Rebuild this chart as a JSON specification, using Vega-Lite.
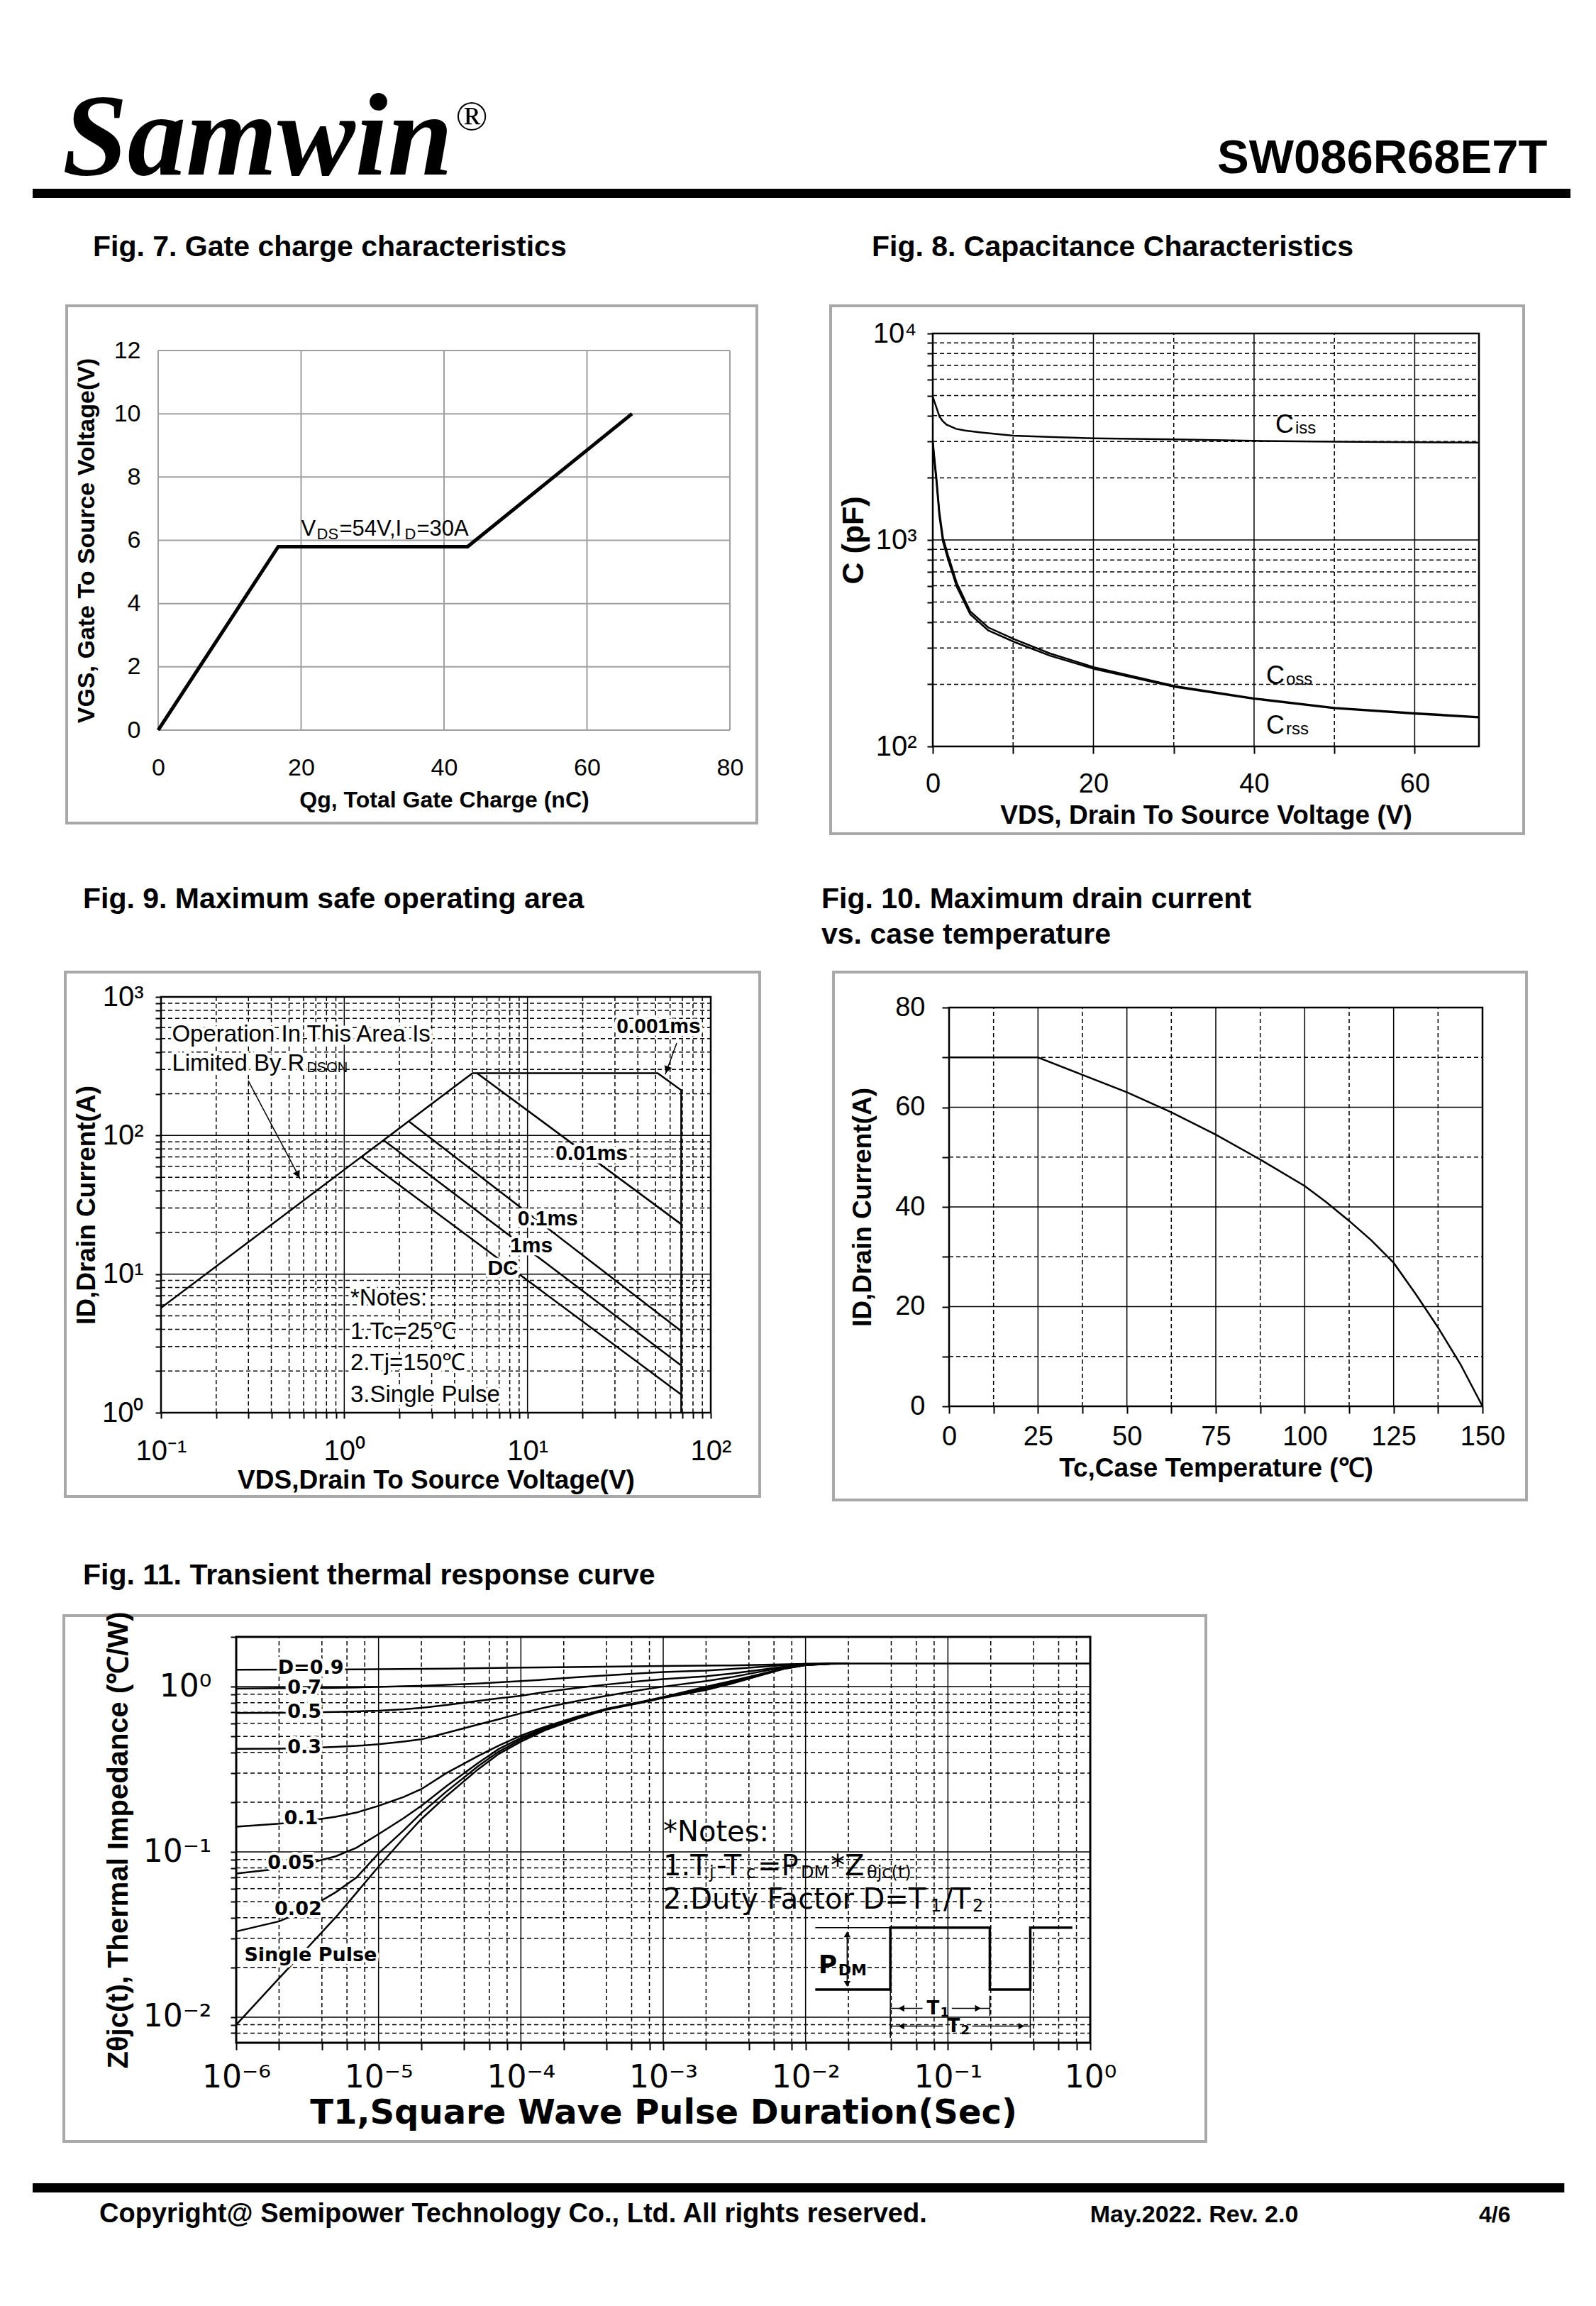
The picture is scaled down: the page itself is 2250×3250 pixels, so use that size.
{
"$schema":"https://vega.github.io/schema/vega-lite/v6.json",
"background":"white",
"padding":{"left":46,"top":99,"right":10,"bottom":10},
"spacing":0,
"bounds":"full",
"config":{"view":{"stroke":null},"font":"Liberation Sans","mark":{"color":"black"},
"axis":{"labelColor":"black","titleColor":"black","tickColor":"black","labelFont":"Liberation Sans","titleFont":"Liberation Sans","domain":false,"grid":false,"labelFlush":false,"labelOverlap":false,"tickWidth":2}},
"datasets":{
"f7":[{"x":0,"y":0},{"x":16.8,"y":5.8},{"x":43.3,"y":5.8},{"x":66.3,"y":10}],
"f7gx":[{"v":0},{"v":20},{"v":40},{"v":60},{"v":80}],
"f7gy":[{"v":0},{"v":2},{"v":4},{"v":6},{"v":8},{"v":10},{"v":12}],
"f8":[
{"s":"iss","x":0,"y":4935},{"s":"iss","x":0.4,"y":4450},{"s":"iss","x":0.82,"y":3970},{"s":"iss","x":1.2,"y":3780},{"s":"iss","x":1.7,"y":3622},{"s":"iss","x":2.9,"y":3453},{"s":"iss","x":4,"y":3390},{"s":"iss","x":5.8,"y":3325},{"s":"iss","x":8,"y":3260},{"s":"iss","x":10,"y":3198},{"s":"iss","x":15,"y":3150},{"s":"iss","x":20,"y":3107},{"s":"iss","x":30,"y":3070},{"s":"iss","x":40,"y":3020},{"s":"iss","x":50,"y":2990},{"s":"iss","x":60,"y":2975},{"s":"iss","x":68,"y":2960},
{"s":"oss","x":0,"y":3020},{"s":"oss","x":0.2,"y":2500},{"s":"oss","x":0.44,"y":2030},{"s":"oss","x":0.82,"y":1370},{"s":"oss","x":1.26,"y":1030},{"s":"oss","x":1.9,"y":843},{"s":"oss","x":3,"y":617},{"s":"oss","x":4.66,"y":451},{"s":"oss","x":6.9,"y":377},{"s":"oss","x":10.2,"y":330},{"s":"oss","x":14.6,"y":282},{"s":"oss","x":20.2,"y":241},{"s":"oss","x":30.2,"y":196},{"s":"oss","x":40,"y":171},{"s":"oss","x":50,"y":154},{"s":"oss","x":60,"y":145},{"s":"oss","x":68,"y":139},
{"s":"rss","x":0,"y":2950},{"s":"rss","x":0.2,"y":2420},{"s":"rss","x":0.44,"y":1950},{"s":"rss","x":0.82,"y":1310},{"s":"rss","x":1.26,"y":985},{"s":"rss","x":1.9,"y":805},{"s":"rss","x":3,"y":592},{"s":"rss","x":4.66,"y":437},{"s":"rss","x":6.9,"y":365},{"s":"rss","x":10.2,"y":320},{"s":"rss","x":14.6,"y":275},{"s":"rss","x":20.2,"y":237},{"s":"rss","x":30.2,"y":194},{"s":"rss","x":40,"y":170},{"s":"rss","x":50,"y":153},{"s":"rss","x":60,"y":144},{"s":"rss","x":68,"y":138}],
"f8gx":[{"v":10,"k":"m"},{"v":20,"k":"M"},{"v":30,"k":"m"},{"v":40,"k":"M"},{"v":50,"k":"m"},{"v":60,"k":"M"}],
"f8gy":[{"v":200,"k":"m"},{"v":300,"k":"m"},{"v":400,"k":"m"},{"v":500,"k":"m"},{"v":600,"k":"m"},{"v":700,"k":"m"},{"v":800,"k":"m"},{"v":900,"k":"m"},{"v":1000,"k":"M"},{"v":2000,"k":"m"},{"v":3000,"k":"m"},{"v":4000,"k":"m"},{"v":5000,"k":"m"},{"v":6000,"k":"m"},{"v":7000,"k":"m"},{"v":8000,"k":"m"},{"v":9000,"k":"m"}],
"f9":[{"s":"lim","i":0,"x":0.1,"y":5.7},{"s":"lim","i":1,"x":5.01,"y":282},{"s":"lim","i":2,"x":51.3,"y":282},{"s":"lim","i":3,"x":69,"y":212},{"s":"lim","i":4,"x":69,"y":1},
{"s":"a","i":0,"x":5.3,"y":282},{"s":"a","i":1,"x":69,"y":22.9},
{"s":"b","i":0,"x":2.26,"y":126},{"s":"b","i":1,"x":69,"y":3.88},
{"s":"c","i":0,"x":1.65,"y":92},{"s":"c","i":1,"x":69,"y":2.19},
{"s":"d","i":0,"x":1.24,"y":70},{"s":"d","i":1,"x":69,"y":1.35}],
"f9gx":[{"v":0.2,"k":"m"},{"v":0.3,"k":"m"},{"v":0.4,"k":"m"},{"v":0.5,"k":"m"},{"v":0.6,"k":"m"},{"v":0.7,"k":"m"},{"v":0.8,"k":"m"},{"v":0.9,"k":"m"},{"v":1,"k":"M"},{"v":2,"k":"m"},{"v":3,"k":"m"},{"v":4,"k":"m"},{"v":5,"k":"m"},{"v":6,"k":"m"},{"v":7,"k":"m"},{"v":8,"k":"m"},{"v":9,"k":"m"},{"v":10,"k":"M"},{"v":20,"k":"m"},{"v":30,"k":"m"},{"v":40,"k":"m"},{"v":50,"k":"m"},{"v":60,"k":"m"},{"v":70,"k":"m"},{"v":80,"k":"m"},{"v":90,"k":"m"}],
"f9gy":[{"v":2,"k":"m"},{"v":3,"k":"m"},{"v":4,"k":"m"},{"v":5,"k":"m"},{"v":6,"k":"m"},{"v":7,"k":"m"},{"v":8,"k":"m"},{"v":9,"k":"m"},{"v":10,"k":"M"},{"v":20,"k":"m"},{"v":30,"k":"m"},{"v":40,"k":"m"},{"v":50,"k":"m"},{"v":60,"k":"m"},{"v":70,"k":"m"},{"v":80,"k":"m"},{"v":90,"k":"m"},{"v":100,"k":"M"},{"v":200,"k":"m"},{"v":300,"k":"m"},{"v":400,"k":"m"},{"v":500,"k":"m"},{"v":600,"k":"m"},{"v":700,"k":"m"},{"v":800,"k":"m"},{"v":900,"k":"m"}],
"f9b":[{"t":"0.001ms","x":51.9,"y":606},{"t":"0.01ms","x":22.4,"y":73.6},{"t":"0.1ms","x":12.9,"y":25},{"t":"1ms","x":10.5,"y":15.9},{"t":"DC","x":7.35,"y":10.9}],
"f9n":[{"t":"Operation In This Area Is","x":0.1147,"y":535},{"t":"Limited By R","x":0.1147,"y":329},{"t":"*Notes:","x":1.08,"y":6.68},{"t":"1.Tc=25℃","x":1.08,"y":3.83},{"t":"2.Tj=150℃","x":1.08,"y":2.27},{"t":"3.Single Pulse","x":1.08,"y":1.35}],
"f10":[{"x":0,"y":70},{"x":25,"y":70},{"x":37.5,"y":66.5},{"x":50,"y":63},{"x":62.5,"y":59},{"x":75,"y":54.5},{"x":87.5,"y":49.5},{"x":100,"y":44.2},{"x":106,"y":41},{"x":112.5,"y":37.2},{"x":118.75,"y":33.3},{"x":125,"y":28.8},{"x":131.25,"y":22.5},{"x":137.5,"y":15.8},{"x":143.75,"y":8.5},{"x":150,"y":0}],
"f10gx":[{"v":12.5,"k":"m"},{"v":25,"k":"M"},{"v":37.5,"k":"m"},{"v":50,"k":"M"},{"v":62.5,"k":"m"},{"v":75,"k":"M"},{"v":87.5,"k":"m"},{"v":100,"k":"M"},{"v":112.5,"k":"m"},{"v":125,"k":"M"},{"v":137.5,"k":"m"}],
"f10gy":[{"v":10,"k":"m"},{"v":20,"k":"M"},{"v":30,"k":"m"},{"v":40,"k":"M"},{"v":50,"k":"m"},{"v":60,"k":"M"},{"v":70,"k":"m"}],
"f11":[
{"s":"sp","x":1e-6,"y":0.009},{"s":"sp","x":2e-6,"y":0.0172},{"s":"sp","x":3e-6,"y":0.025},{"s":"sp","x":5e-6,"y":0.0402},{"s":"sp","x":7e-6,"y":0.0566},{"s":"sp","x":1e-5,"y":0.0815},{"s":"sp","x":1.5e-5,"y":0.121},{"s":"sp","x":2e-5,"y":0.158},{"s":"sp","x":3e-5,"y":0.218},{"s":"sp","x":5e-5,"y":0.316},{"s":"sp","x":7e-5,"y":0.392},{"s":"sp","x":1e-4,"y":0.465},{"s":"sp","x":1.5e-4,"y":0.548},{"s":"sp","x":2.5e-4,"y":0.641},{"s":"sp","x":4e-4,"y":0.725},{"s":"sp","x":7e-4,"y":0.8},{"s":"sp","x":1e-3,"y":0.855},{"s":"sp","x":2e-3,"y":0.955},{"s":"sp","x":3e-3,"y":1.04},{"s":"sp","x":5e-3,"y":1.18},{"s":"sp","x":7e-3,"y":1.28},{"s":"sp","x":1e-2,"y":1.35},{"s":"sp","x":1.5e-2,"y":1.375},{"s":"sp","x":2e-2,"y":1.38},{"s":"sp","x":1,"y":1.38},
{"s":"d02","x":1e-6,"y":0.033},{"s":"d02","x":2e-6,"y":0.038},{"s":"d02","x":3e-6,"y":0.044},{"s":"d02","x":5e-6,"y":0.057},{"s":"d02","x":7e-6,"y":0.07},{"s":"d02","x":1e-5,"y":0.098},{"s":"d02","x":1.5e-5,"y":0.135},{"s":"d02","x":2e-5,"y":0.172},{"s":"d02","x":3e-5,"y":0.232},{"s":"d02","x":5e-5,"y":0.33},{"s":"d02","x":7e-5,"y":0.405},{"s":"d02","x":1e-4,"y":0.478},{"s":"d02","x":1.5e-4,"y":0.558},{"s":"d02","x":2.5e-4,"y":0.648},{"s":"d02","x":4e-4,"y":0.73},{"s":"d02","x":7e-4,"y":0.803},{"s":"d02","x":1e-3,"y":0.858},{"s":"d02","x":2e-3,"y":0.97},{"s":"d02","x":3e-3,"y":1.05},{"s":"d02","x":5e-3,"y":1.185},{"s":"d02","x":7e-3,"y":1.282},{"s":"d02","x":1e-2,"y":1.35},{"s":"d02","x":1.5e-2,"y":1.376},{"s":"d02","x":2e-2,"y":1.38},
{"s":"d05","x":1e-6,"y":0.074},{"s":"d05","x":2e-6,"y":0.079},{"s":"d05","x":3e-6,"y":0.084},{"s":"d05","x":5e-6,"y":0.094},{"s":"d05","x":7e-6,"y":0.106},{"s":"d05","x":1e-5,"y":0.128},{"s":"d05","x":1.5e-5,"y":0.16},{"s":"d05","x":2e-5,"y":0.19},{"s":"d05","x":3e-5,"y":0.25},{"s":"d05","x":5e-5,"y":0.345},{"s":"d05","x":7e-5,"y":0.42},{"s":"d05","x":1e-4,"y":0.49},{"s":"d05","x":1.5e-4,"y":0.565},{"s":"d05","x":2.5e-4,"y":0.652},{"s":"d05","x":4e-4,"y":0.73},{"s":"d05","x":7e-4,"y":0.805},{"s":"d05","x":1e-3,"y":0.86},{"s":"d05","x":2e-3,"y":0.985},{"s":"d05","x":3e-3,"y":1.065},{"s":"d05","x":5e-3,"y":1.195},{"s":"d05","x":7e-3,"y":1.285},{"s":"d05","x":1e-2,"y":1.352},{"s":"d05","x":1.5e-2,"y":1.376},{"s":"d05","x":2e-2,"y":1.38},
{"s":"d1","x":1e-6,"y":0.142},{"s":"d1","x":2e-6,"y":0.148},{"s":"d1","x":3e-6,"y":0.153},{"s":"d1","x":5e-6,"y":0.163},{"s":"d1","x":7e-6,"y":0.173},{"s":"d1","x":1e-5,"y":0.19},{"s":"d1","x":1.5e-5,"y":0.215},{"s":"d1","x":2e-5,"y":0.24},{"s":"d1","x":3e-5,"y":0.3},{"s":"d1","x":5e-5,"y":0.38},{"s":"d1","x":7e-5,"y":0.44},{"s":"d1","x":1e-4,"y":0.505},{"s":"d1","x":1.5e-4,"y":0.575},{"s":"d1","x":2.5e-4,"y":0.66},{"s":"d1","x":4e-4,"y":0.735},{"s":"d1","x":7e-4,"y":0.81},{"s":"d1","x":1e-3,"y":0.865},{"s":"d1","x":2e-3,"y":1.0},{"s":"d1","x":3e-3,"y":1.08},{"s":"d1","x":5e-3,"y":1.2},{"s":"d1","x":7e-3,"y":1.29},{"s":"d1","x":1e-2,"y":1.355},{"s":"d1","x":1.5e-2,"y":1.377},{"s":"d1","x":2e-2,"y":1.38},
{"s":"d3","x":1e-6,"y":0.42},{"s":"d3","x":2e-6,"y":0.422},{"s":"d3","x":3e-6,"y":0.425},{"s":"d3","x":5e-6,"y":0.432},{"s":"d3","x":7e-6,"y":0.438},{"s":"d3","x":1e-5,"y":0.448},{"s":"d3","x":1.5e-5,"y":0.465},{"s":"d3","x":2e-5,"y":0.48},{"s":"d3","x":3e-5,"y":0.525},{"s":"d3","x":5e-5,"y":0.59},{"s":"d3","x":7e-5,"y":0.635},{"s":"d3","x":1e-4,"y":0.69},{"s":"d3","x":1.5e-4,"y":0.75},{"s":"d3","x":2.5e-4,"y":0.82},{"s":"d3","x":4e-4,"y":0.88},{"s":"d3","x":7e-4,"y":0.955},{"s":"d3","x":1e-3,"y":1.0},{"s":"d3","x":2e-3,"y":1.08},{"s":"d3","x":3e-3,"y":1.14},{"s":"d3","x":5e-3,"y":1.24},{"s":"d3","x":7e-3,"y":1.31},{"s":"d3","x":1e-2,"y":1.36},{"s":"d3","x":1.5e-2,"y":1.378},{"s":"d3","x":2e-2,"y":1.38},
{"s":"d5","x":1e-6,"y":0.692},{"s":"d5","x":2e-6,"y":0.695},{"s":"d5","x":3e-6,"y":0.698},{"s":"d5","x":5e-6,"y":0.703},{"s":"d5","x":7e-6,"y":0.708},{"s":"d5","x":1e-5,"y":0.715},{"s":"d5","x":1.5e-5,"y":0.73},{"s":"d5","x":2e-5,"y":0.745},{"s":"d5","x":3e-5,"y":0.775},{"s":"d5","x":5e-5,"y":0.82},{"s":"d5","x":7e-5,"y":0.85},{"s":"d5","x":1e-4,"y":0.88},{"s":"d5","x":1.5e-4,"y":0.93},{"s":"d5","x":2.5e-4,"y":0.985},{"s":"d5","x":4e-4,"y":1.03},{"s":"d5","x":7e-4,"y":1.08},{"s":"d5","x":1e-3,"y":1.11},{"s":"d5","x":2e-3,"y":1.155},{"s":"d5","x":3e-3,"y":1.2},{"s":"d5","x":5e-3,"y":1.27},{"s":"d5","x":7e-3,"y":1.32},{"s":"d5","x":1e-2,"y":1.365},{"s":"d5","x":1.5e-2,"y":1.378},{"s":"d5","x":2e-2,"y":1.38},
{"s":"d7","x":1e-6,"y":0.975},{"s":"d7","x":2e-6,"y":0.978},{"s":"d7","x":3e-6,"y":0.98},{"s":"d7","x":5e-6,"y":0.985},{"s":"d7","x":7e-6,"y":0.99},{"s":"d7","x":1e-5,"y":0.995},{"s":"d7","x":1.5e-5,"y":1.005},{"s":"d7","x":2e-5,"y":1.012},{"s":"d7","x":3e-5,"y":1.025},{"s":"d7","x":5e-5,"y":1.045},{"s":"d7","x":7e-5,"y":1.062},{"s":"d7","x":1e-4,"y":1.08},{"s":"d7","x":1.5e-4,"y":1.105},{"s":"d7","x":2.5e-4,"y":1.14},{"s":"d7","x":4e-4,"y":1.17},{"s":"d7","x":7e-4,"y":1.205},{"s":"d7","x":1e-3,"y":1.225},{"s":"d7","x":2e-3,"y":1.25},{"s":"d7","x":3e-3,"y":1.28},{"s":"d7","x":5e-3,"y":1.32},{"s":"d7","x":7e-3,"y":1.35},{"s":"d7","x":1e-2,"y":1.372},{"s":"d7","x":1.5e-2,"y":1.38},{"s":"d7","x":2e-2,"y":1.38},
{"s":"d9","x":1e-6,"y":1.265},{"s":"d9","x":3e-6,"y":1.268},{"s":"d9","x":1e-5,"y":1.275},{"s":"d9","x":3e-5,"y":1.285},{"s":"d9","x":1e-4,"y":1.303},{"s":"d9","x":3e-4,"y":1.317},{"s":"d9","x":1e-3,"y":1.332},{"s":"d9","x":3e-3,"y":1.345},{"s":"d9","x":1e-2,"y":1.372},{"s":"d9","x":2e-2,"y":1.38}],
"f11gx":[{"v":2e-6,"k":"m"},{"v":4e-6,"k":"m"},{"v":6e-6,"k":"m"},{"v":8e-6,"k":"m"},{"v":1e-5,"k":"M"},{"v":2e-5,"k":"m"},{"v":4e-5,"k":"m"},{"v":6e-5,"k":"m"},{"v":8e-5,"k":"m"},{"v":1e-4,"k":"M"},{"v":2e-4,"k":"m"},{"v":4e-4,"k":"m"},{"v":6e-4,"k":"m"},{"v":8e-4,"k":"m"},{"v":0.001,"k":"M"},{"v":0.002,"k":"m"},{"v":0.004,"k":"m"},{"v":0.006,"k":"m"},{"v":0.008,"k":"m"},{"v":0.01,"k":"M"},{"v":0.02,"k":"m"},{"v":0.04,"k":"m"},{"v":0.06,"k":"m"},{"v":0.08,"k":"m"},{"v":0.1,"k":"M"},{"v":0.2,"k":"m"},{"v":0.4,"k":"m"},{"v":0.6,"k":"m"},{"v":0.8,"k":"m"}],
"f11gy":[{"v":0.008,"k":"m"},{"v":0.009,"k":"m"},{"v":0.01,"k":"M"},{"v":0.02,"k":"m"},{"v":0.03,"k":"m"},{"v":0.04,"k":"m"},{"v":0.05,"k":"m"},{"v":0.06,"k":"m"},{"v":0.07,"k":"m"},{"v":0.08,"k":"m"},{"v":0.09,"k":"m"},{"v":0.1,"k":"M"},{"v":0.2,"k":"m"},{"v":0.3,"k":"m"},{"v":0.4,"k":"m"},{"v":0.5,"k":"m"},{"v":0.6,"k":"m"},{"v":0.7,"k":"m"},{"v":0.8,"k":"m"},{"v":0.9,"k":"m"},{"v":1,"k":"M"}],
"f11w":[{"i":0,"x":0.0117,"y":0.0147},{"i":1,"x":0.0394,"y":0.0147},{"i":2,"x":0.0394,"y":0.0348},{"i":3,"x":0.197,"y":0.0348},{"i":4,"x":0.197,"y":0.0147},{"i":5,"x":0.379,"y":0.0147},{"i":6,"x":0.379,"y":0.0348},{"i":7,"x":0.749,"y":0.0348}],
"f11r":[{"x":0.0117,"y":0.0348,"x2":0.0394,"y2":0.0348},{"x":0.0196,"y":0.0318,"x2":0.0196,"y2":0.0161},{"x":0.0394,"y":0.0113,"x2":0.0663,"y2":0.0113},{"x":0.1066,"y":0.0113,"x2":0.197,"y2":0.0113},{"x":0.0394,"y":0.00882,"x2":0.0923,"y2":0.00882},{"x":0.148,"y":0.00882,"x2":0.379,"y2":0.00882},{"x":0.0394,"y":0.0147,"x2":0.0394,"y2":0.0075},{"x":0.197,"y":0.0135,"x2":0.197,"y2":0.0102},{"x":0.379,"y":0.0147,"x2":0.379,"y2":0.0075}],
"f11tri":[{"x":0.0196,"y":0.0317,"d":"u"},{"x":0.0196,"y":0.0159,"d":"d"},{"x":0.0471,"y":0.0113,"d":"l"},{"x":0.1626,"y":0.0113,"d":"r"},{"x":0.0471,"y":0.00882,"d":"l"},{"x":0.328,"y":0.00882,"d":"r"}],
"f11d":[{"t":"D=0.9","x":1.96e-6,"y":1.29},{"t":"0.7","x":2.29e-6,"y":0.977},{"t":"0.5","x":2.29e-6,"y":0.7},{"t":"0.3","x":2.29e-6,"y":0.428},{"t":"0.1","x":2.17e-6,"y":0.159},{"t":"0.05","x":1.66e-6,"y":0.0855},{"t":"0.02","x":1.86e-6,"y":0.0449},{"t":"Single Pulse","x":1.14e-6,"y":0.0236}]
},
"vconcat":[
{"width":2168,"height":180,
 "layer":[
 {"data":{"values":[{}]},"mark":{"type":"rect","color":"black"},"encoding":{"x":{"datum":0,"type":"quantitative","scale":{"domain":[0,1],"nice":false,"zero":false},"axis":null},"x2":{"datum":1},"y":{"datum":0,"type":"quantitative","scale":{"domain":[0,1],"nice":false,"zero":false},"axis":null},"y2":{"datum":0.0722}}},
 {"data":{"values":[{"t":"Samwin"}]},"mark":{"type":"text","font":"Liberation Serif","fontSize":165,"fontWeight":"bold","fontStyle":"italic","align":"left","baseline":"alphabetic"},"encoding":{"x":{"datum":0.0194,"type":"quantitative","scale":{"domain":[0,1],"nice":false,"zero":false},"axis":null},"y":{"datum":0.183,"type":"quantitative","scale":{"domain":[0,1],"nice":false,"zero":false},"axis":null},"text":{"field":"t"}}},
 {"data":{"values":[{"t":"®"}]},"mark":{"type":"text","font":"Liberation Serif","fontSize":60,"align":"left","baseline":"alphabetic"},"encoding":{"x":{"datum":0.275,"type":"quantitative","scale":{"domain":[0,1],"nice":false,"zero":false},"axis":null},"y":{"datum":0.533,"type":"quantitative","scale":{"domain":[0,1],"nice":false,"zero":false},"axis":null},"text":{"field":"t"}}},
 {"data":{"values":[{"t":"SW086R68E7T"}]},"mark":{"type":"text","font":"Liberation Sans","fontSize":67,"fontWeight":"bold","align":"right","baseline":"alphabetic"},"encoding":{"x":{"datum":0.985,"type":"quantitative","scale":{"domain":[0,1],"nice":false,"zero":false},"axis":null},"y":{"datum":0.194,"type":"quantitative","scale":{"domain":[0,1],"nice":false,"zero":false},"axis":null},"text":{"field":"t"}}}
 ]},
{"width":1,"height":46,"data":{"values":[{}]},"mark":{"type":"text","text":"","fontSize":1}},
{"hconcat":[
 {"width":46,"height":1,"data":{"values":[{}]},"mark":{"type":"text","text":"","fontSize":1}},
 {"width":973,"height":729,"view":{"stroke":"#a8a8a8","strokeWidth":4},
  "title":{"text":"Fig. 7. Gate charge characteristics","anchor":"start","frame":"group","dx":37,"offset":61,"fontSize":41,"fontWeight":"bold","font":"Liberation Sans","color":"black"},
  "layer":[
  {"data":{"name":"f7gx"},"mark":{"type":"rule","color":"#a0a0a0","strokeWidth":2},"encoding":{
   "x":{"field":"v","type":"quantitative","scale":{"domain":[0,80],"range":[129,935],"nice":false,"zero":false},"axis":{"orient":"bottom","offset":-131,"values":[0,20,40,60,80],"format":"d","grid":false,"domain":false,"ticks":false,"labelFlush":false,"labelOverlap":false,"labelPadding":36,"labelFontSize":34,"title":"Qg, Total Gate Charge (nC)","titleFontSize":32,"titleFontWeight":"bold","titlePadding":13}},
   "y":{"datum":0,"type":"quantitative","scale":{"domain":[0,12],"range":[598,63],"nice":false,"zero":false},"axis":{"orient":"left","offset":-129,"values":[0,2,4,6,8,10,12],"format":"d","grid":false,"domain":false,"ticks":false,"labelFlush":false,"labelOverlap":false,"labelPadding":25,"labelFontSize":34,"title":"VGS,  Gate To  Source Voltage(V)","titleFontSize":34,"titleFontWeight":"bold","titlePadding":21}},
   "y2":{"datum":12}}},
  {"data":{"name":"f7gy"},"mark":{"type":"rule","color":"#a0a0a0","strokeWidth":2},"encoding":{"y":{"field":"v","type":"quantitative","scale":{"domain":[0,12],"range":[598,63],"nice":false,"zero":false}},"x":{"datum":0,"type":"quantitative","scale":{"domain":[0,80],"range":[129,935],"nice":false,"zero":false}},"x2":{"datum":80}}},
  {"data":{"name":"f7"},"mark":{"type":"line","color":"black","strokeWidth":5},"encoding":{"x":{"field":"x","type":"quantitative","scale":{"domain":[0,80],"range":[129,935],"nice":false,"zero":false}},"y":{"field":"y","type":"quantitative","scale":{"domain":[0,12],"range":[598,63],"nice":false,"zero":false}}}},
  {"data":{"values":[{"t":"V","x":20,"y":6.15}]},"mark":{"type":"text","fontSize":31,"align":"left","baseline":"alphabetic"},"encoding":{"x":{"field":"x","type":"quantitative","scale":{"domain":[0,80],"range":[129,935],"nice":false,"zero":false}},"y":{"field":"y","type":"quantitative","scale":{"domain":[0,12],"range":[598,63],"nice":false,"zero":false}},"text":{"field":"t"}}},
  {"data":{"values":[{"t":"DS","x":20,"y":6.15}]},"mark":{"type":"text","fontSize":22,"align":"left","baseline":"alphabetic","dx":22,"dy":5},"encoding":{"x":{"field":"x","type":"quantitative","scale":{"domain":[0,80],"range":[129,935],"nice":false,"zero":false}},"y":{"field":"y","type":"quantitative","scale":{"domain":[0,12],"range":[598,63],"nice":false,"zero":false}},"text":{"field":"t"}}},
  {"data":{"values":[{"t":"=54V,I","x":20,"y":6.15}]},"mark":{"type":"text","fontSize":31,"align":"left","baseline":"alphabetic","dx":54},"encoding":{"x":{"field":"x","type":"quantitative","scale":{"domain":[0,80],"range":[129,935],"nice":false,"zero":false}},"y":{"field":"y","type":"quantitative","scale":{"domain":[0,12],"range":[598,63],"nice":false,"zero":false}},"text":{"field":"t"}}},
  {"data":{"values":[{"t":"D","x":20,"y":6.15}]},"mark":{"type":"text","fontSize":22,"align":"left","baseline":"alphabetic","dx":146,"dy":5},"encoding":{"x":{"field":"x","type":"quantitative","scale":{"domain":[0,80],"range":[129,935],"nice":false,"zero":false}},"y":{"field":"y","type":"quantitative","scale":{"domain":[0,12],"range":[598,63],"nice":false,"zero":false}},"text":{"field":"t"}}},
  {"data":{"values":[{"t":"=30A","x":20,"y":6.15}]},"mark":{"type":"text","fontSize":31,"align":"left","baseline":"alphabetic","dx":163},"encoding":{"x":{"field":"x","type":"quantitative","scale":{"domain":[0,80],"range":[129,935],"nice":false,"zero":false}},"y":{"field":"y","type":"quantitative","scale":{"domain":[0,12],"range":[598,63],"nice":false,"zero":false}},"text":{"field":"t"}}}
  ]},
 {"width":100,"height":1,"data":{"values":[{}]},"mark":{"type":"text","text":"","fontSize":1}},
 {"width":977,"height":744,"view":{"stroke":"#a8a8a8","strokeWidth":4},
  "title":{"text":"Fig. 8. Capacitance Characteristics","anchor":"start","frame":"group","dx":58,"offset":61,"fontSize":41,"fontWeight":"bold","font":"Liberation Sans","color":"black"},
  "layer":[
  {"data":{"name":"f8gx"},"mark":{"type":"rule","color":"black","strokeWidth":1.5},"encoding":{
   "x":{"field":"v","type":"quantitative","scale":{"domain":[0,68],"range":[144,914],"nice":false,"zero":false},"axis":{"orient":"bottom","offset":-123,"values":[0,10,20,30,40,50,60],"grid":false,"domain":false,"labelFlush":false,"labelOverlap":false,"tickSize":10,"labelPadding":24,"labelFontSize":38,"labelExpr":"datum.value % 20 == 0 ? datum.label : ''","title":"VDS, Drain To Source Voltage (V)","titleFontSize":37,"titleFontWeight":"bold","titlePadding":7}},
   "y":{"datum":100,"type":"quantitative","scale":{"type":"log","domain":[100,10000],"range":[621,39],"nice":false},"axis":{"orient":"left","offset":-144,"values":[100,200,300,400,500,600,700,800,900,1000,2000,3000,4000,5000,6000,7000,8000,9000,10000],"grid":false,"domain":false,"labelFlush":false,"labelOverlap":false,"tickSize":8,"labelPadding":15,"labelFontSize":40,"labelExpr":"datum.value == 100 ? '10²' : datum.value == 1000 ? '10³' : datum.value == 10000 ? '10⁴' : ''","title":"C (pF)","titleFontSize":43,"titleFontWeight":"bold","titlePadding":5}},
   "y2":{"datum":10000},"strokeDash":{"field":"k","type":"nominal","scale":{"domain":["M","m"],"range":[[1,0],[6,4]]},"legend":null}}},
  {"data":{"name":"f8gy"},"mark":{"type":"rule","color":"black","strokeWidth":1.5},"encoding":{"y":{"field":"v","type":"quantitative","scale":{"type":"log","domain":[100,10000],"range":[621,39],"nice":false}},"x":{"datum":0,"type":"quantitative","scale":{"domain":[0,68],"range":[144,914],"nice":false,"zero":false}},"x2":{"datum":68},"strokeDash":{"field":"k","type":"nominal","scale":{"domain":["M","m"],"range":[[1,0],[6,4]]},"legend":null}}},
  {"data":{"name":"f8"},"mark":{"type":"line","color":"black","strokeWidth":2.5},"encoding":{"x":{"field":"x","type":"quantitative","scale":{"domain":[0,68],"range":[144,914],"nice":false,"zero":false}},"y":{"field":"y","type":"quantitative","scale":{"type":"log","domain":[100,10000],"range":[621,39],"nice":false}},"detail":{"field":"s"}}},
  {"data":{"values":[{}]},"mark":{"type":"rect","filled":false,"color":"black","strokeWidth":2.5},"encoding":{"x":{"datum":0,"type":"quantitative","scale":{"domain":[0,68],"range":[144,914],"nice":false,"zero":false}},"x2":{"datum":68},"y":{"datum":100,"type":"quantitative","scale":{"type":"log","domain":[100,10000],"range":[621,39],"nice":false}},"y2":{"datum":10000}}},
  {"data":{"values":[{"t":"C","x":42.65,"y":3304},{"t":"C","x":41.5,"y":200},{"t":"C","x":41.5,"y":115.4}]},"mark":{"type":"text","fontSize":36,"align":"left","baseline":"alphabetic"},"encoding":{"x":{"field":"x","type":"quantitative","scale":{"domain":[0,68],"range":[144,914],"nice":false,"zero":false}},"y":{"field":"y","type":"quantitative","scale":{"type":"log","domain":[100,10000],"range":[621,39],"nice":false}},"text":{"field":"t"}}},
  {"data":{"values":[{"t":"iss","x":42.65,"y":3304},{"t":"oss","x":41.5,"y":200},{"t":"rss","x":41.5,"y":115.4}]},"mark":{"type":"text","fontSize":24,"align":"left","baseline":"alphabetic","dx":28,"dy":1},"encoding":{"x":{"field":"x","type":"quantitative","scale":{"domain":[0,68],"range":[144,914],"nice":false,"zero":false}},"y":{"field":"y","type":"quantitative","scale":{"type":"log","domain":[100,10000],"range":[621,39],"nice":false}},"text":{"field":"t"}}}
  ]}
 ],"spacing":0,"bounds":"full"},
{"width":1,"height":68,"data":{"values":[{}]},"mark":{"type":"text","text":"","fontSize":1}},
{"hconcat":[
 {"width":44,"height":1,"data":{"values":[{}]},"mark":{"type":"text","text":"","fontSize":1}},
 {"width":979,"height":739,"view":{"stroke":"#a8a8a8","strokeWidth":4},
  "title":{"text":"Fig. 9. Maximum safe operating area","anchor":"start","frame":"group","dx":25,"offset":81,"fontSize":41,"fontWeight":"bold","font":"Liberation Sans","color":"black"},
  "layer":[
  {"data":{"name":"f9gx"},"mark":{"type":"rule","color":"black","strokeWidth":1.5},"encoding":{
   "x":{"field":"v","type":"quantitative","scale":{"type":"log","domain":[0.1,100],"range":[135,910],"nice":false},"axis":{"orient":"bottom","offset":-118,"values":[0.1,0.2,0.3,0.4,0.5,0.6,0.7,0.8,0.9,1,2,3,4,5,6,7,8,9,10,20,30,40,50,60,70,80,90,100],"grid":false,"domain":false,"labelFlush":false,"labelOverlap":false,"tickSize":8,"labelPadding":26,"labelFontSize":40,"labelExpr":"datum.value == 0.1 ? '10⁻¹' : datum.value == 1 ? '10⁰' : datum.value == 10 ? '10¹' : datum.value == 100 ? '10²' : ''","title":"VDS,Drain To Source Voltage(V)","titleFontSize":37,"titleFontWeight":"bold","titlePadding":3}},
   "y":{"datum":1,"type":"quantitative","scale":{"type":"log","domain":[1,1000],"range":[621,35],"nice":false},"axis":{"orient":"left","offset":-135,"values":[1,2,3,4,5,6,7,8,9,10,20,30,40,50,60,70,80,90,100,200,300,400,500,600,700,800,900,1000],"grid":false,"domain":false,"labelFlush":false,"labelOverlap":false,"tickSize":8,"labelPadding":17,"labelFontSize":40,"labelExpr":"datum.value == 1 ? '10⁰' : datum.value == 10 ? '10¹' : datum.value == 100 ? '10²' : datum.value == 1000 ? '10³' : ''","title":"ID,Drain Current(A)","titleFontSize":37,"titleFontWeight":"bold","titlePadding":2}},
   "y2":{"datum":1000},"strokeDash":{"field":"k","type":"nominal","scale":{"domain":["M","m"],"range":[[1,0],[6,4]]},"legend":null}}},
  {"data":{"name":"f9gy"},"mark":{"type":"rule","color":"black","strokeWidth":1.5},"encoding":{"y":{"field":"v","type":"quantitative","scale":{"type":"log","domain":[1,1000],"range":[621,35],"nice":false}},"x":{"datum":0.1,"type":"quantitative","scale":{"type":"log","domain":[0.1,100],"range":[135,910],"nice":false}},"x2":{"datum":100},"strokeDash":{"field":"k","type":"nominal","scale":{"domain":["M","m"],"range":[[1,0],[6,4]]},"legend":null}}},
  {"data":{"name":"f9"},"mark":{"type":"line","color":"black","strokeWidth":2.5},"encoding":{"x":{"field":"x","type":"quantitative","scale":{"type":"log","domain":[0.1,100],"range":[135,910],"nice":false}},"y":{"field":"y","type":"quantitative","scale":{"type":"log","domain":[1,1000],"range":[621,35],"nice":false}},"detail":{"field":"s"},"order":{"field":"i"}}},
  {"data":{"values":[{}]},"mark":{"type":"rect","filled":false,"color":"black","strokeWidth":2.5},"encoding":{"x":{"datum":0.1,"type":"quantitative","scale":{"type":"log","domain":[0.1,100],"range":[135,910],"nice":false}},"x2":{"datum":100},"y":{"datum":1,"type":"quantitative","scale":{"type":"log","domain":[1,1000],"range":[621,35],"nice":false}},"y2":{"datum":1000}}},
  {"data":{"values":[{"x":0.299,"y":249,"x2":0.575,"y2":48.5},{"x":65.2,"y":465,"x2":56.5,"y2":276}]},"mark":{"type":"rule","color":"black","strokeWidth":1.5},"encoding":{"x":{"field":"x","type":"quantitative","scale":{"type":"log","domain":[0.1,100],"range":[135,910],"nice":false}},"x2":{"field":"x2"},"y":{"field":"y","type":"quantitative","scale":{"type":"log","domain":[1,1000],"range":[621,35],"nice":false}},"y2":{"field":"y2"}}},
  {"data":{"values":[{"x":0.558,"y":52.2}]},"mark":{"type":"point","shape":"triangle-down","filled":true,"color":"black","size":120,"angle":332,"opacity":1},"encoding":{"x":{"field":"x","type":"quantitative","scale":{"type":"log","domain":[0.1,100],"range":[135,910],"nice":false}},"y":{"field":"y","type":"quantitative","scale":{"type":"log","domain":[1,1000],"range":[621,35],"nice":false}}}},
  {"data":{"values":[{"x":57.7,"y":298}]},"mark":{"type":"point","shape":"triangle-down","filled":true,"color":"black","size":120,"angle":20,"opacity":1},"encoding":{"x":{"field":"x","type":"quantitative","scale":{"type":"log","domain":[0.1,100],"range":[135,910],"nice":false}},"y":{"field":"y","type":"quantitative","scale":{"type":"log","domain":[1,1000],"range":[621,35],"nice":false}}}},
  {"data":{"name":"f9b"},"mark":{"type":"text","fontSize":30,"fontWeight":"bold","align":"center","baseline":"middle","color":"white","stroke":"white","strokeWidth":9,"strokeJoin":"round"},"encoding":{"x":{"field":"x","type":"quantitative","scale":{"type":"log","domain":[0.1,100],"range":[135,910],"nice":false}},"y":{"field":"y","type":"quantitative","scale":{"type":"log","domain":[1,1000],"range":[621,35],"nice":false}},"text":{"field":"t"}}},
  {"data":{"name":"f9b"},"mark":{"type":"text","fontSize":30,"fontWeight":"bold","align":"center","baseline":"middle","color":"black"},"encoding":{"x":{"field":"x","type":"quantitative","scale":{"type":"log","domain":[0.1,100],"range":[135,910],"nice":false}},"y":{"field":"y","type":"quantitative","scale":{"type":"log","domain":[1,1000],"range":[621,35],"nice":false}},"text":{"field":"t"}}},
  {"data":{"name":"f9n"},"mark":{"type":"text","fontSize":33,"align":"left","baseline":"middle","color":"white","stroke":"white","strokeWidth":9,"strokeJoin":"round"},"encoding":{"x":{"field":"x","type":"quantitative","scale":{"type":"log","domain":[0.1,100],"range":[135,910],"nice":false}},"y":{"field":"y","type":"quantitative","scale":{"type":"log","domain":[1,1000],"range":[621,35],"nice":false}},"text":{"field":"t"}}},
  {"data":{"name":"f9n"},"mark":{"type":"text","fontSize":33,"align":"left","baseline":"middle","color":"black"},"encoding":{"x":{"field":"x","type":"quantitative","scale":{"type":"log","domain":[0.1,100],"range":[135,910],"nice":false}},"y":{"field":"y","type":"quantitative","scale":{"type":"log","domain":[1,1000],"range":[621,35],"nice":false}},"text":{"field":"t"}}},
  {"data":{"values":[{"t":"DSON","x":0.1147,"y":329}]},"mark":{"type":"text","fontSize":20,"align":"left","baseline":"middle","color":"black","dx":190,"dy":6},"encoding":{"x":{"field":"x","type":"quantitative","scale":{"type":"log","domain":[0.1,100],"range":[135,910],"nice":false}},"y":{"field":"y","type":"quantitative","scale":{"type":"log","domain":[1,1000],"range":[621,35],"nice":false}},"text":{"field":"t"}}}
  ]},
 {"width":83,"height":1,"data":{"values":[{}]},"mark":{"type":"text","text":"","fontSize":1}},
 {"width":977,"height":744,"view":{"stroke":"#a8a8a8","strokeWidth":4},
  "title":{"text":["Fig. 10. Maximum drain current","\u00a0\u00a0\u00a0\u00a0\u00a0\u00a0\u00a0\u00a0\u00a0\u00a0\u00a0vs. case temperature"],"lineHeight":50,"anchor":"start","frame":"group","dx":-17,"offset":31,"fontSize":41,"fontWeight":"bold","font":"Liberation Sans","color":"black"},
  "layer":[
  {"data":{"name":"f10gx"},"mark":{"type":"rule","color":"black","strokeWidth":1.5},"encoding":{
   "x":{"field":"v","type":"quantitative","scale":{"domain":[0,150],"range":[163,915],"nice":false,"zero":false},"axis":{"orient":"bottom","offset":-132,"values":[0,12.5,25,37.5,50,62.5,75,87.5,100,112.5,125,137.5,150],"grid":false,"domain":false,"labelFlush":false,"labelOverlap":false,"tickSize":10,"labelPadding":14,"labelFontSize":38,"labelExpr":"datum.value % 25 == 0 ? datum.label : ''","title":"Tc,Case Temperature (℃)","titleFontSize":37,"titleFontWeight":"bold","titlePadding":7}},
   "y":{"datum":0,"type":"quantitative","scale":{"domain":[0,80],"range":[612,50],"nice":false,"zero":false},"axis":{"orient":"left","offset":-163,"values":[0,10,20,30,40,50,60,70,80],"grid":false,"domain":false,"labelFlush":false,"labelOverlap":false,"tickSize":10,"labelPadding":24,"labelFontSize":38,"labelExpr":"datum.value % 20 == 0 ? datum.label : ''","title":"ID,Drain Current(A)","titleFontSize":37,"titleFontWeight":"bold","titlePadding":26}},
   "y2":{"datum":80},"strokeDash":{"field":"k","type":"nominal","scale":{"domain":["M","m"],"range":[[1,0],[6,4]]},"legend":null}}},
  {"data":{"name":"f10gy"},"mark":{"type":"rule","color":"black","strokeWidth":1.5},"encoding":{"y":{"field":"v","type":"quantitative","scale":{"domain":[0,80],"range":[612,50],"nice":false,"zero":false}},"x":{"datum":0,"type":"quantitative","scale":{"domain":[0,150],"range":[163,915],"nice":false,"zero":false}},"x2":{"datum":150},"strokeDash":{"field":"k","type":"nominal","scale":{"domain":["M","m"],"range":[[1,0],[6,4]]},"legend":null}}},
  {"data":{"name":"f10"},"mark":{"type":"line","color":"black","strokeWidth":2.5},"encoding":{"x":{"field":"x","type":"quantitative","scale":{"domain":[0,150],"range":[163,915],"nice":false,"zero":false}},"y":{"field":"y","type":"quantitative","scale":{"domain":[0,80],"range":[612,50],"nice":false,"zero":false}}}},
  {"data":{"values":[{}]},"mark":{"type":"rect","filled":false,"color":"black","strokeWidth":2.5},"encoding":{"x":{"datum":0,"type":"quantitative","scale":{"domain":[0,150],"range":[163,915],"nice":false,"zero":false}},"x2":{"datum":150},"y":{"datum":0,"type":"quantitative","scale":{"domain":[0,80],"range":[612,50],"nice":false,"zero":false}},"y2":{"datum":80}}}
  ]}
 ],"spacing":0,"bounds":"full"},
{"width":1,"height":82,"data":{"values":[{}]},"mark":{"type":"text","text":"","fontSize":1}},
{"hconcat":[
 {"width":42,"height":1,"data":{"values":[{}]},"mark":{"type":"text","text":"","fontSize":1}},
 {"width":1610,"height":741,"view":{"stroke":"#a8a8a8","strokeWidth":4},
  "title":{"text":"Fig. 11. Transient thermal response curve","anchor":"start","frame":"group","dx":27,"offset":29,"fontSize":41,"fontWeight":"bold","font":"Liberation Sans","color":"black"},
  "layer":[
  {"data":{"name":"f11gx"},"mark":{"type":"rule","color":"black","strokeWidth":1.5},"encoding":{
   "x":{"field":"v","type":"quantitative","scale":{"type":"log","domain":[0.000001,1],"range":[243,1447],"nice":false},"axis":{"orient":"bottom","offset":-139,"values":[0.000001,0.000002,0.000004,0.000006,0.000008,0.00001,0.00002,0.00004,0.00006,0.00008,0.0001,0.0002,0.0004,0.0006,0.0008,0.001,0.002,0.004,0.006,0.008,0.01,0.02,0.04,0.06,0.08,0.1,0.2,0.4,0.6,0.8,1],"grid":false,"domain":false,"labelFlush":false,"labelOverlap":false,"tickSize":10,"labelPadding":17,"labelFont":"DejaVu Sans","labelFontSize":44,"labelExpr":"datum.value == 0.000001 ? '10⁻⁶' : datum.value == 0.00001 ? '10⁻⁵' : datum.value == 0.0001 ? '10⁻⁴' : datum.value == 0.001 ? '10⁻³' : datum.value == 0.01 ? '10⁻²' : datum.value == 0.1 ? '10⁻¹' : datum.value == 1 ? '10⁰' : ''","title":"T1,Square Wave Pulse Duration(Sec)","titleFont":"DejaVu Sans","titleFontSize":48,"titleFontWeight":"bold","titlePadding":4}},
   "y":{"datum":0.007,"type":"quantitative","scale":{"type":"log","domain":[0.007,2],"range":[602,30],"nice":false},"axis":{"orient":"left","offset":-243,"values":[0.008,0.009,0.01,0.02,0.03,0.04,0.05,0.06,0.07,0.08,0.09,0.1,0.2,0.3,0.4,0.5,0.6,0.7,0.8,0.9,1,2],"grid":false,"domain":false,"labelFlush":false,"labelOverlap":false,"tickSize":8,"labelPadding":27,"labelFont":"DejaVu Sans","labelFontSize":44,"labelExpr":"datum.value == 1 ? '10⁰' : datum.value == 0.1 ? '10⁻¹' : datum.value == 0.01 ? '10⁻²' : ''","title":"Zθjc(t), Thermal Impedance (℃/W)","titleFontSize":40,"titleFontWeight":"bold","titlePadding":14}},
   "y2":{"datum":2},"strokeDash":{"field":"k","type":"nominal","scale":{"domain":["M","m"],"range":[[1,0],[6,4]]},"legend":null}}},
  {"data":{"name":"f11gy"},"mark":{"type":"rule","color":"black","strokeWidth":1.5},"encoding":{"y":{"field":"v","type":"quantitative","scale":{"type":"log","domain":[0.007,2],"range":[602,30],"nice":false}},"x":{"datum":0.000001,"type":"quantitative","scale":{"type":"log","domain":[0.000001,1],"range":[243,1447],"nice":false}},"x2":{"datum":1},"strokeDash":{"field":"k","type":"nominal","scale":{"domain":["M","m"],"range":[[1,0],[6,4]]},"legend":null}}},
  {"data":{"name":"f11"},"mark":{"type":"line","color":"black","strokeWidth":2.5},"encoding":{"x":{"field":"x","type":"quantitative","scale":{"type":"log","domain":[0.000001,1],"range":[243,1447],"nice":false}},"y":{"field":"y","type":"quantitative","scale":{"type":"log","domain":[0.007,2],"range":[602,30],"nice":false}},"detail":{"field":"s"}}},
  {"data":{"name":"f11w"},"mark":{"type":"line","color":"black","strokeWidth":3.5},"encoding":{"x":{"field":"x","type":"quantitative","scale":{"type":"log","domain":[0.000001,1],"range":[243,1447],"nice":false}},"y":{"field":"y","type":"quantitative","scale":{"type":"log","domain":[0.007,2],"range":[602,30],"nice":false}},"order":{"field":"i"}}},
  {"data":{"name":"f11r"},"mark":{"type":"rule","color":"black","strokeWidth":1.5},"encoding":{"x":{"field":"x","type":"quantitative","scale":{"type":"log","domain":[0.000001,1],"range":[243,1447],"nice":false}},"x2":{"field":"x2"},"y":{"field":"y","type":"quantitative","scale":{"type":"log","domain":[0.007,2],"range":[602,30],"nice":false}},"y2":{"field":"y2"}}},
  {"data":{"name":"f11tri"},"mark":{"type":"point","filled":true,"color":"black","size":90,"opacity":1},"encoding":{"x":{"field":"x","type":"quantitative","scale":{"type":"log","domain":[0.000001,1],"range":[243,1447],"nice":false}},"y":{"field":"y","type":"quantitative","scale":{"type":"log","domain":[0.007,2],"range":[602,30],"nice":false}},"shape":{"field":"d","type":"nominal","scale":{"domain":["u","d","l","r"],"range":["triangle-up","triangle-down","triangle-left","triangle-right"]},"legend":null}}},
  {"data":{"values":[{}]},"mark":{"type":"rect","filled":false,"color":"black","strokeWidth":3},"encoding":{"x":{"datum":0.000001,"type":"quantitative","scale":{"type":"log","domain":[0.000001,1],"range":[243,1447],"nice":false}},"x2":{"datum":1},"y":{"datum":0.007,"type":"quantitative","scale":{"type":"log","domain":[0.007,2],"range":[602,30],"nice":false}},"y2":{"datum":2}}},
  {"data":{"name":"f11d"},"mark":{"type":"text","font":"DejaVu Sans","fontSize":27,"fontWeight":"bold","align":"left","baseline":"middle","color":"white","stroke":"white","strokeWidth":8,"strokeJoin":"round"},"encoding":{"x":{"field":"x","type":"quantitative","scale":{"type":"log","domain":[0.000001,1],"range":[243,1447],"nice":false}},"y":{"field":"y","type":"quantitative","scale":{"type":"log","domain":[0.007,2],"range":[602,30],"nice":false}},"text":{"field":"t"}}},
  {"data":{"name":"f11d"},"mark":{"type":"text","font":"DejaVu Sans","fontSize":27,"fontWeight":"bold","align":"left","baseline":"middle","color":"black"},"encoding":{"x":{"field":"x","type":"quantitative","scale":{"type":"log","domain":[0.000001,1],"range":[243,1447],"nice":false}},"y":{"field":"y","type":"quantitative","scale":{"type":"log","domain":[0.007,2],"range":[602,30],"nice":false}},"text":{"field":"t"}}},
  {"data":{"values":[{"t":"*Notes:","x":0.001,"y":0.13},{"t":"1.T","x":0.001,"y":0.081},{"t":"2.Duty Factor D=T","x":0.001,"y":0.051}]},"mark":{"type":"text","font":"DejaVu Sans","fontSize":40,"align":"left","baseline":"middle","color":"black"},"encoding":{"x":{"field":"x","type":"quantitative","scale":{"type":"log","domain":[0.000001,1],"range":[243,1447],"nice":false}},"y":{"field":"y","type":"quantitative","scale":{"type":"log","domain":[0.007,2],"range":[602,30],"nice":false}},"text":{"field":"t"}}},
  {"data":{"values":[{"t":"j","x":0.001,"y":0.081}]},"mark":{"type":"text","font":"DejaVu Sans","fontSize":24,"align":"left","baseline":"middle","color":"black","dx":65,"dy":9},"encoding":{"x":{"field":"x","type":"quantitative","scale":{"type":"log","domain":[0.000001,1],"range":[243,1447],"nice":false}},"y":{"field":"y","type":"quantitative","scale":{"type":"log","domain":[0.007,2],"range":[602,30],"nice":false}},"text":{"field":"t"}}},
  {"data":{"values":[{"t":"-T","x":0.001,"y":0.081}]},"mark":{"type":"text","font":"DejaVu Sans","fontSize":40,"align":"left","baseline":"middle","color":"black","dx":75},"encoding":{"x":{"field":"x","type":"quantitative","scale":{"type":"log","domain":[0.000001,1],"range":[243,1447],"nice":false}},"y":{"field":"y","type":"quantitative","scale":{"type":"log","domain":[0.007,2],"range":[602,30],"nice":false}},"text":{"field":"t"}}},
  {"data":{"values":[{"t":"c","x":0.001,"y":0.081}]},"mark":{"type":"text","font":"DejaVu Sans","fontSize":24,"align":"left","baseline":"middle","color":"black","dx":117,"dy":9},"encoding":{"x":{"field":"x","type":"quantitative","scale":{"type":"log","domain":[0.000001,1],"range":[243,1447],"nice":false}},"y":{"field":"y","type":"quantitative","scale":{"type":"log","domain":[0.007,2],"range":[602,30],"nice":false}},"text":{"field":"t"}}},
  {"data":{"values":[{"t":"=P","x":0.001,"y":0.081}]},"mark":{"type":"text","font":"DejaVu Sans","fontSize":40,"align":"left","baseline":"middle","color":"black","dx":133},"encoding":{"x":{"field":"x","type":"quantitative","scale":{"type":"log","domain":[0.000001,1],"range":[243,1447],"nice":false}},"y":{"field":"y","type":"quantitative","scale":{"type":"log","domain":[0.007,2],"range":[602,30],"nice":false}},"text":{"field":"t"}}},
  {"data":{"values":[{"t":"DM","x":0.001,"y":0.081}]},"mark":{"type":"text","font":"DejaVu Sans","fontSize":24,"align":"left","baseline":"middle","color":"black","dx":194,"dy":9},"encoding":{"x":{"field":"x","type":"quantitative","scale":{"type":"log","domain":[0.000001,1],"range":[243,1447],"nice":false}},"y":{"field":"y","type":"quantitative","scale":{"type":"log","domain":[0.007,2],"range":[602,30],"nice":false}},"text":{"field":"t"}}},
  {"data":{"values":[{"t":"*Z","x":0.001,"y":0.081}]},"mark":{"type":"text","font":"DejaVu Sans","fontSize":40,"align":"left","baseline":"middle","color":"black","dx":236},"encoding":{"x":{"field":"x","type":"quantitative","scale":{"type":"log","domain":[0.000001,1],"range":[243,1447],"nice":false}},"y":{"field":"y","type":"quantitative","scale":{"type":"log","domain":[0.007,2],"range":[602,30],"nice":false}},"text":{"field":"t"}}},
  {"data":{"values":[{"t":"θjc(t)","x":0.001,"y":0.081}]},"mark":{"type":"text","font":"DejaVu Sans","fontSize":24,"align":"left","baseline":"middle","color":"black","dx":287,"dy":9},"encoding":{"x":{"field":"x","type":"quantitative","scale":{"type":"log","domain":[0.000001,1],"range":[243,1447],"nice":false}},"y":{"field":"y","type":"quantitative","scale":{"type":"log","domain":[0.007,2],"range":[602,30],"nice":false}},"text":{"field":"t"}}},
  {"data":{"values":[{"t":"1","x":0.001,"y":0.051}]},"mark":{"type":"text","font":"DejaVu Sans","fontSize":24,"align":"left","baseline":"middle","color":"black","dx":377,"dy":9},"encoding":{"x":{"field":"x","type":"quantitative","scale":{"type":"log","domain":[0.000001,1],"range":[243,1447],"nice":false}},"y":{"field":"y","type":"quantitative","scale":{"type":"log","domain":[0.007,2],"range":[602,30],"nice":false}},"text":{"field":"t"}}},
  {"data":{"values":[{"t":"/T","x":0.001,"y":0.051}]},"mark":{"type":"text","font":"DejaVu Sans","fontSize":40,"align":"left","baseline":"middle","color":"black","dx":395},"encoding":{"x":{"field":"x","type":"quantitative","scale":{"type":"log","domain":[0.000001,1],"range":[243,1447],"nice":false}},"y":{"field":"y","type":"quantitative","scale":{"type":"log","domain":[0.007,2],"range":[602,30],"nice":false}},"text":{"field":"t"}}},
  {"data":{"values":[{"t":"2","x":0.001,"y":0.051}]},"mark":{"type":"text","font":"DejaVu Sans","fontSize":24,"align":"left","baseline":"middle","color":"black","dx":436,"dy":9},"encoding":{"x":{"field":"x","type":"quantitative","scale":{"type":"log","domain":[0.000001,1],"range":[243,1447],"nice":false}},"y":{"field":"y","type":"quantitative","scale":{"type":"log","domain":[0.007,2],"range":[602,30],"nice":false}},"text":{"field":"t"}}},
  {"data":{"values":[{"t":"P","x":0.0123,"y":0.0205}]},"mark":{"type":"text","font":"DejaVu Sans","fontSize":36,"fontWeight":"bold","align":"left","baseline":"middle","color":"black"},"encoding":{"x":{"field":"x","type":"quantitative","scale":{"type":"log","domain":[0.000001,1],"range":[243,1447],"nice":false}},"y":{"field":"y","type":"quantitative","scale":{"type":"log","domain":[0.007,2],"range":[602,30],"nice":false}},"text":{"field":"t"}}},
  {"data":{"values":[{"t":"DM","x":0.0123,"y":0.0205}]},"mark":{"type":"text","font":"DejaVu Sans","fontSize":22,"fontWeight":"bold","align":"left","baseline":"middle","color":"black","dx":28,"dy":7},"encoding":{"x":{"field":"x","type":"quantitative","scale":{"type":"log","domain":[0.000001,1],"range":[243,1447],"nice":false}},"y":{"field":"y","type":"quantitative","scale":{"type":"log","domain":[0.007,2],"range":[602,30],"nice":false}},"text":{"field":"t"}}},
  {"data":{"values":[{"t":"T","x":0.0711,"y":0.0113},{"t":"T","x":0.099,"y":0.00882}]},"mark":{"type":"text","font":"DejaVu Sans","fontSize":26,"fontWeight":"bold","align":"left","baseline":"middle","color":"black"},"encoding":{"x":{"field":"x","type":"quantitative","scale":{"type":"log","domain":[0.000001,1],"range":[243,1447],"nice":false}},"y":{"field":"y","type":"quantitative","scale":{"type":"log","domain":[0.007,2],"range":[602,30],"nice":false}},"text":{"field":"t"}}},
  {"data":{"values":[{"t":"1","x":0.0711,"y":0.0113},{"t":"2","x":0.099,"y":0.00882}]},"mark":{"type":"text","font":"DejaVu Sans","fontSize":18,"fontWeight":"bold","align":"left","baseline":"middle","color":"black","dx":19,"dy":6},"encoding":{"x":{"field":"x","type":"quantitative","scale":{"type":"log","domain":[0.000001,1],"range":[243,1447],"nice":false}},"y":{"field":"y","type":"quantitative","scale":{"type":"log","domain":[0.007,2],"range":[602,30],"nice":false}},"text":{"field":"t"}}}
  ]}
 ],"spacing":0,"bounds":"full"},
{"width":1,"height":57,"data":{"values":[{}]},"mark":{"type":"text","text":"","fontSize":1}},
{"width":2168,"height":69,
 "layer":[
 {"data":{"values":[{}]},"mark":{"type":"rect","color":"black"},"encoding":{"x":{"datum":0,"type":"quantitative","scale":{"domain":[0,1],"nice":false,"zero":false},"axis":null},"x2":{"datum":0.996},"y":{"datum":0.8116,"type":"quantitative","scale":{"domain":[0,1],"nice":false,"zero":false},"axis":null},"y2":{"datum":1}}},
 {"data":{"values":[{"t":"Copyright@ Semipower Technology Co., Ltd. All rights reserved."}]},"mark":{"type":"text","fontSize":38,"fontWeight":"bold","align":"left","baseline":"alphabetic"},"encoding":{"x":{"datum":0.0434,"type":"quantitative","scale":{"domain":[0,1],"nice":false,"zero":false},"axis":null},"y":{"datum":0.203,"type":"quantitative","scale":{"domain":[0,1],"nice":false,"zero":false},"axis":null},"text":{"field":"t"}}},
 {"data":{"values":[{"t":"May.2022. Rev. 2.0"}]},"mark":{"type":"text","fontSize":34,"fontWeight":"bold","align":"left","baseline":"alphabetic"},"encoding":{"x":{"datum":0.6876,"type":"quantitative","scale":{"domain":[0,1],"nice":false,"zero":false},"axis":null},"y":{"datum":0.203,"type":"quantitative","scale":{"domain":[0,1],"nice":false,"zero":false},"axis":null},"text":{"field":"t"}}},
 {"data":{"values":[{"t":"4/6"}]},"mark":{"type":"text","fontSize":32,"fontWeight":"bold","align":"left","baseline":"alphabetic"},"encoding":{"x":{"datum":0.9405,"type":"quantitative","scale":{"domain":[0,1],"nice":false,"zero":false},"axis":null},"y":{"datum":0.203,"type":"quantitative","scale":{"domain":[0,1],"nice":false,"zero":false},"axis":null},"text":{"field":"t"}}}
 ]}
]
}
